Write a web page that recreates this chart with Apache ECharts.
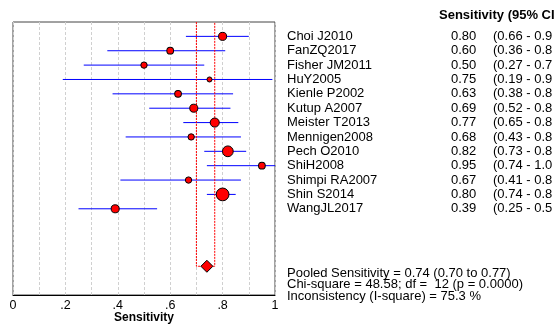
<!DOCTYPE html>
<html>
<head>
<meta charset="utf-8">
<script src="https://cdn.jsdelivr.net/npm/echarts@6/dist/echarts.min.js"></script>
<style>
  html, body { margin: 0; padding: 0; background: #fff; }
  #main { width: 558px; height: 324px; }
</style>
</head>
<body>
<div id="main"></div>
<script>
// study data
var studies = ['Choi J2010', 'FanZQ2017', 'Fisher JM2011', 'HuY2005', 'Kienle P2002', 'Kutup A2007',
  'Meister T2013', 'Mennigen2008', 'Pech O2010', 'ShiH2008', 'Shimpi RA2007', 'Shin S2014', 'WangJL2017'];
var sens = [0.80, 0.60, 0.50, 0.75, 0.63, 0.69, 0.77, 0.68, 0.82, 0.95, 0.67, 0.80, 0.39];
var ciLow = [0.66, 0.36, 0.27, 0.19, 0.38, 0.52, 0.65, 0.43, 0.73, 0.74, 0.41, 0.74, 0.25];
var ciHigh = [0.90, 0.81, 0.73, 0.99, 0.84, 0.83, 0.86, 0.87, 0.89, 1.00, 0.87, 0.85, 0.55];
// relative study weight (%), drawn as marker area
var weights = [7.7, 5.4, 4.8, 3.0, 5.4, 7.7, 9.8, 4.8, 13.8, 5.4, 4.8, 19.4, 7.7];

var pooled = 0.74, pooledLow = 0.70, pooledHigh = 0.77;
var chiSquare = 48.58, df = 12, pValue = '0.0000', iSquare = 75.3;
var xTickLabels = ['0', '.2', '.4', '.6', '.8', '1'];
var pooledRow = 16;

var font = '"Liberation Sans", Arial, sans-serif';

// the original picture is cut at its right edge; drop whole characters that do not fit
var measureCtx = document.createElement('canvas').getContext('2d');
function fitText(str, fontStr, maxW) {
  measureCtx.font = fontStr;
  while (str.length && measureCtx.measureText(str).width > maxW) {
    str = str.slice(0, -1);
  }
  return str;
}

var ciData = [], pointData = [], tableData = [];
studies.forEach(function (name, i) {
  ciData.push([i, ciLow[i], ciHigh[i]]);
  pointData.push([sens[i], i, weights[i]]);
  tableData.push([0, i]);
});

var myChart = echarts.init(document.getElementById('main'));

var option = {
  backgroundColor: '#fff',
  animation: false,
  grid: [
    { left: 13, top: 22, width: 262, height: 273, show: true, borderColor: '#444', borderWidth: 1, outerBoundsMode: 'none' },
    { left: 287, top: 22, width: 260, height: 273, outerBoundsMode: 'none' }
  ],
  xAxis: [
    {
      gridIndex: 0, type: 'value', min: 0, max: 1, interval: 0.1,
      axisLine: { show: true, onZero: false, lineStyle: { color: '#000', width: 1 } },
      axisTick: { show: false },
      splitLine: { show: true, lineStyle: { color: '#d0d0d0', type: [3, 2] } },
      axisLabel: {
        color: '#000', fontSize: 12.5, fontFamily: font, margin: 4,
        formatter: function (v) {
          var k = Math.round(v * 10);
          return k % 2 ? '' : xTickLabels[k / 2];
        }
      },
      name: 'Sensitivity', nameLocation: 'middle', nameGap: 17, nameMoveOverlap: false,
      nameTextStyle: { color: '#000', fontWeight: 'bold', fontSize: 12, fontFamily: font, verticalAlign: 'top' }
    },
    { gridIndex: 1, type: 'value', min: 0, max: 1, show: false }
  ],
  yAxis: [
    { gridIndex: 0, type: 'value', min: -1, max: 18, inverse: true, show: false },
    { gridIndex: 1, type: 'value', min: -1, max: 18, inverse: true, show: false }
  ],
  graphic: [
    {
      type: 'text', x: 439, y: 15,
      style: {
        text: fitText('Sensitivity (95% CI)', 'bold 13px ' + font, 118),
        font: 'bold 13px ' + font, fill: '#000', verticalAlign: 'middle'
      }
    },
    {
      type: 'text', x: 287, y: 273,
      style: {
        text: 'Pooled Sensitivity = ' + pooled.toFixed(2) + ' (' + pooledLow.toFixed(2) + ' to ' + pooledHigh.toFixed(2) + ')',
        font: '13px ' + font, fill: '#000', verticalAlign: 'middle'
      }
    },
    {
      type: 'text', x: 287, y: 284.5,
      style: {
        text: 'Chi-square = ' + chiSquare.toFixed(2) + '; df =  ' + df + ' (p = ' + pValue + ')',
        font: '13px ' + font, fill: '#000', verticalAlign: 'middle'
      }
    },
    {
      type: 'text', x: 287, y: 296,
      style: {
        text: 'Inconsistency (I-square) = ' + iSquare + ' %',
        font: '13px ' + font, fill: '#000', verticalAlign: 'middle'
      }
    }
  ],
  series: [
    {
      // confidence intervals
      type: 'custom', xAxisIndex: 0, yAxisIndex: 0, z: 2,
      data: ciData,
      encode: { x: [1, 2], y: 0 },
      renderItem: function (params, api) {
        var a = api.coord([api.value(1), api.value(0)]);
        var b = api.coord([api.value(2), api.value(0)]);
        return {
          type: 'line',
          shape: { x1: a[0], y1: a[1], x2: b[0], y2: b[1] },
          style: { stroke: '#0000ff', lineWidth: 1 }
        };
      }
    },
    {
      // pooled CI bracket
      type: 'line', xAxisIndex: 0, yAxisIndex: 0, z: 3,
      data: [[pooledLow, -1], [pooledLow, pooledRow], [pooledHigh, pooledRow], [pooledHigh, -1]],
      symbol: 'none',
      lineStyle: { color: '#ff0000', width: 1, type: [2, 1] }
    },
    {
      type: 'scatter', xAxisIndex: 0, yAxisIndex: 0, z: 4,
      data: pointData,
      symbol: 'circle',
      symbolSize: function (d) { return 2.9 * Math.sqrt(d[2]); },
      itemStyle: { color: '#ff0000', borderColor: '#000', borderWidth: 1, opacity: 1 }
    },
    {
      type: 'scatter', xAxisIndex: 0, yAxisIndex: 0, z: 5,
      data: [[pooled, pooledRow]],
      symbol: 'diamond', symbolSize: [12, 12],
      itemStyle: { color: '#ff0000', borderColor: '#000', borderWidth: 1, opacity: 1 }
    },
    {
      // study table to the right
      type: 'custom', xAxisIndex: 1, yAxisIndex: 1, clip: false,
      data: tableData,
      renderItem: function (params, api) {
        var i = params.dataIndex;
        var p = api.coord([0, api.value(1)]);
        var f = '13px ' + font;
        var st = { font: f, fill: '#000', verticalAlign: 'middle', align: 'left' };
        var ci = '(' + ciLow[i].toFixed(2) + ' - ' + ciHigh[i].toFixed(2) + ')';
        return {
          type: 'group',
          children: [
            { type: 'text', style: Object.assign({ text: studies[i], x: p[0], y: p[1] }, st) },
            { type: 'text', style: Object.assign({ text: sens[i].toFixed(2), x: p[0] + 164, y: p[1] }, st) },
            { type: 'text', style: Object.assign({ text: fitText(ci, f, 63), x: p[0] + 206, y: p[1] }, st) }
          ]
        };
      }
    }
  ]
};

myChart.setOption(option);
</script>
</body>
</html>
